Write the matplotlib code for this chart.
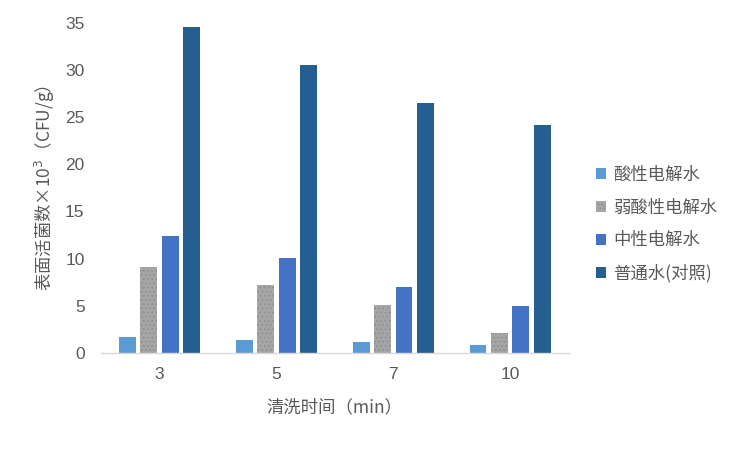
import matplotlib
matplotlib.use("Agg")
import matplotlib.pyplot as plt
import numpy as np

plt.rcParams["font.family"] = ["Noto Sans CJK SC", "DejaVu Sans"]
plt.rcParams["hatch.linewidth"] = 0.6

categories = ["3", "5", "7", "10"]
series_names = ["酸性电解水", "弱酸性电解水", "中性电解水", "普通水(对照)"]
acidic = [1.7, 1.4, 1.1, 0.8]
weak_acidic = [9.1, 7.2, 5.1, 2.1]
neutral = [12.4, 10.1, 7.0, 5.0]
control = [34.6, 30.5, 26.5, 24.2]

colors = ["#5B9BD5", "#A5A5A5", "#4472C4", "#255E91"]
text_color = "#595959"

fig = plt.figure(figsize=(7.5, 4.5), dpi=100, facecolor="white")
ax = fig.add_axes([0.135, 0.216, 0.623, 0.733])

x = np.arange(len(categories))
width = 0.145
step = 0.183
for i, (vals, name, col) in enumerate(zip([acidic, weak_acidic, neutral, control], series_names, colors)):
    offset = (i - 1.5) * step
    kw = {}
    if i == 1:
        kw = {"hatch": "....", "edgecolor": "#8C8C8C", "linewidth": 0}
    ax.bar(x + offset, vals, width, color=col, label=name, **kw)

ax.set_xlim(-0.5, len(categories) - 0.5)
ax.set_ylim(0, 35)
ax.set_yticks(range(0, 36, 5))
ax.set_xticks(x)
ax.set_xticklabels(categories)

for side in ["top", "right", "left"]:
    ax.spines[side].set_visible(False)
ax.spines["bottom"].set_color("#D9D9D9")
ax.spines["bottom"].set_linewidth(1.0)
ax.tick_params(axis="both", length=0, labelsize=12.5, colors=text_color, pad=10)
ax.tick_params(axis="y", pad=12)
for lbl in ax.get_xticklabels() + ax.get_yticklabels():
    lbl.set_family(["Liberation Sans", "DejaVu Sans"])

ax.set_ylabel("表面活菌数×10$^{3}$（CFU/g）", fontsize=12.5, color=text_color, labelpad=6)
ax.set_xlabel("清洗时间（min）", fontsize=12.5, color=text_color, labelpad=12)

ax.legend(loc="center left", bbox_to_anchor=(1.025, 0.39), frameon=False,
          fontsize=12.5, labelcolor=text_color, handlelength=0.6, handleheight=0.6,
          handletextpad=0.4, labelspacing=0.85)

fig.savefig("out.png", dpi=100, facecolor="white")
